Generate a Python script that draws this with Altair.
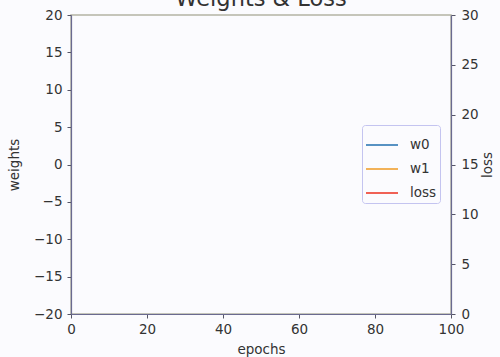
import altair as alt
import pandas as pd

# Training history: nothing has been recorded yet, so every series is empty.
epochs = []
w0 = []
w1 = []
loss = []

series_names = ["w0", "w1", "loss"]
series_colors = ["#2f78b4", "#f0a030", "#ee3b2b"]

weight_ticks = [-20, -15, -10, -5, 0, 5, 10, 15, 20]
loss_ticks = [0, 5, 10, 15, 20, 25, 30]
epoch_ticks = [0, 20, 40, 60, 80, 100]

weights_df = pd.DataFrame({
    "epoch": pd.Series(epochs + epochs, dtype="float"),
    "value": pd.Series(w0 + w1, dtype="float"),
    "series": pd.Series(["w0"] * len(w0) + ["w1"] * len(w1), dtype="object"),
})
loss_df = pd.DataFrame({
    "epoch": pd.Series(epochs, dtype="float"),
    "value": pd.Series(loss, dtype="float"),
    "series": pd.Series(["loss"] * len(loss), dtype="object"),
})

font = "DejaVu Sans"
ink = "#333333"
spine = "#6a6a90"
fs = 13.5

x_enc = alt.X(
    "epoch:Q",
    scale=alt.Scale(domain=[0, 100], nice=False, zero=False),
    axis=alt.Axis(values=epoch_ticks, title="epochs", grid=False,
                  labelFlush=False, labelPadding=4, titlePadding=7),
)

color_enc = alt.Color(
    "series:N",
    scale=alt.Scale(domain=series_names, range=series_colors),
    legend=alt.Legend(
        title=None, orient="none", legendX=291, legendY=110,
        symbolType="stroke", symbolSize=1024, symbolStrokeWidth=1.6,
        labelFont=font, labelFontSize=fs, labelColor=ink, labelOffset=11,
        strokeColor="#c4c4f0", padding=3, cornerRadius=3,
        rowPadding=-5, fillColor="#fbfbfe",
    ),
)

weights_layer = alt.Chart(weights_df).mark_line(strokeWidth=1.5).encode(
    x=x_enc,
    y=alt.Y(
        "value:Q",
        scale=alt.Scale(domain=[-20, 20], nice=False, zero=False),
        axis=alt.Axis(values=weight_ticks, title="weights", orient="left",
                      grid=False, labelPadding=5, titlePadding=12),
    ),
    color=color_enc,
)

loss_layer = alt.Chart(loss_df).mark_line(strokeWidth=1.5).encode(
    x=x_enc,
    y=alt.Y(
        "value:Q",
        scale=alt.Scale(domain=[0, 30], nice=False, zero=False),
        axis=alt.Axis(values=loss_ticks, title="loss", orient="right",
                      grid=False, labelPadding=6, titlePadding=16,
                      titleAngle=270),
    ),
    color=color_enc,
)

chart = (
    alt.layer(weights_layer, loss_layer)
    .resolve_scale(y="independent")
    .properties(
        width=380,
        height=299,
        title=alt.TitleParams(
            "Weights & Loss", fontSize=22.5, font=font, fontWeight="normal",
            color=ink, anchor="middle", offset=2, dy=4,
        ),
        padding={"left": 71, "top": 15, "right": 49, "bottom": 43},
        autosize=alt.AutoSizeParams(type="none"),
        background="#fbfbfe",
    )
    .configure_view(stroke="#b4b4a4", strokeWidth=1.5, fill="#fbfbfe")
    .configure_axis(
        labelFont=font, labelFontSize=fs, labelColor=ink,
        titleFont=font, titleFontSize=fs, titleFontWeight="normal",
        titleColor=ink, tickColor="#555566", tickSize=4,
        domainColor=spine, domainWidth=1.2,
    )
)

chart.save("out.html", embed_options={"renderer": "svg", "actions": False})
